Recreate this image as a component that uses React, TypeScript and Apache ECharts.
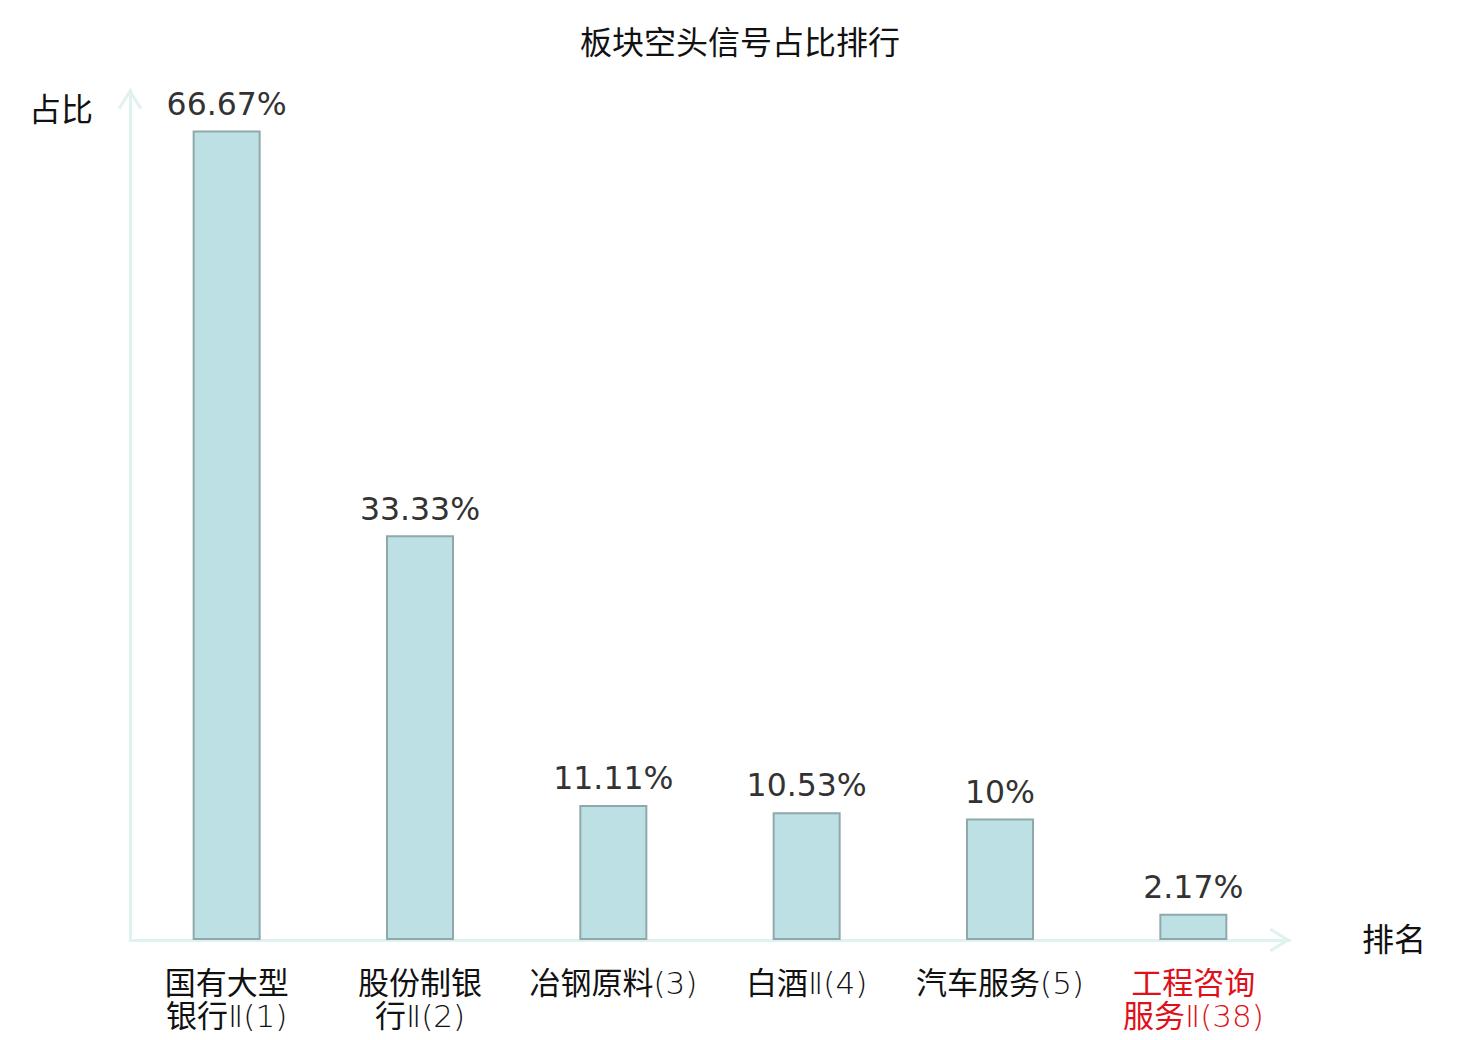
import React, { useEffect, useRef } from "react";
import * as echarts from "echarts";

const TITLE = "板块空头信号占比排行";
const sectorNames = ["国有大型银行Ⅱ", "股份制银行Ⅱ", "冶钢原料", "白酒Ⅱ", "汽车服务", "工程咨询服务Ⅱ"];
const sectorRanks = [1, 2, 3, 4, 5, 38];
const shareValues = [66.67, 33.33, 11.11, 10.53, 10, 2.17];
const highlightIndex = 5;

const chevron = "path://M12,0 L24,19 L21.6,21 L12,5.5 L2.4,21 L0,19 Z";
const FONT = "'DejaVu Sans', 'Noto Sans CJK SC', sans-serif";
const LABEL_FONT = "'DejaVu Sans Light', 'DejaVu Sans ExtraLight', 'Noto Sans CJK SC', sans-serif";
const BLACK = "#111";
const RED = "#e0101a";

export default function App() {
  const ref = useRef<HTMLDivElement>(null);
  useEffect(() => {
    if (!ref.current) return;
    const chart = echarts.init(ref.current, undefined, { renderer: "svg" });
    const cats = sectorNames.map((n, i) => {
      const wrapped = n.length > 4 ? n.slice(0, 4) + "\n" + n.slice(4) : n;
      const label = `${wrapped}(${sectorRanks[i]})`;
      return i === highlightIndex ? { value: label, textStyle: { color: RED } } : { value: label };
    });
    const axisLineStyle = { color: "#dff2ef", width: 3 };
    chart.setOption({
      animation: false,
      textStyle: { fontFamily: FONT },
      title: {
        text: TITLE,
        left: "center",
        top: 14,
        textStyle: { fontSize: 32, fontWeight: "normal", color: BLACK, fontFamily: FONT },
      },
      grid: { left: 122, right: 182, top: 82, bottom: 92, containLabel: false },
      xAxis: {
        type: "category",
        data: cats,
        name: "排名",
        nameLocation: "end",
        nameGap: 72,
        nameTextStyle: { fontSize: 32, color: BLACK, fontFamily: FONT },
        axisLine: {
          show: true,
          lineStyle: axisLineStyle,
          symbol: ["none", chevron],
          symbolSize: [24, 21],
          symbolOffset: [0, -10],
        },
        axisTick: { show: false },
        axisLabel: {
          interval: 0,
          margin: 26,
          fontSize: 31,
          lineHeight: 33,
          color: BLACK,
          fontWeight: "normal",
          fontFamily: LABEL_FONT,
        },
        splitLine: { show: false },
      },
      yAxis: {
        type: "value",
        min: 0,
        max: 70,
        name: "占比",
        nameLocation: "end",
        nameGap: -20,
        nameTextStyle: {
          fontSize: 32,
          color: BLACK,
          align: "right",
          verticalAlign: "middle",
          padding: [0, 37, 0, 0],
          fontFamily: FONT,
        },
        axisLine: {
          show: true,
          lineStyle: axisLineStyle,
          symbol: ["none", chevron],
          symbolSize: [24, 21],
          symbolOffset: [0, -9],
        },
        axisTick: { show: false },
        axisLabel: { show: false },
        splitLine: { show: false },
      },
      series: [
        {
          type: "bar",
          data: shareValues,
          barWidth: 68,
          itemStyle: { color: "#bce0e3", borderColor: "#8fa9ab", borderWidth: 2 },
          label: {
            show: true,
            position: "top",
            distance: 11,
            formatter: "{c}%",
            fontSize: 31.5,
            color: "#333",
            fontFamily: FONT,
          },
        },
      ],
    });
    return () => chart.dispose();
  }, []);
  return <div ref={ref} style={{ width: 1464, height: 1024 }} />;
}
